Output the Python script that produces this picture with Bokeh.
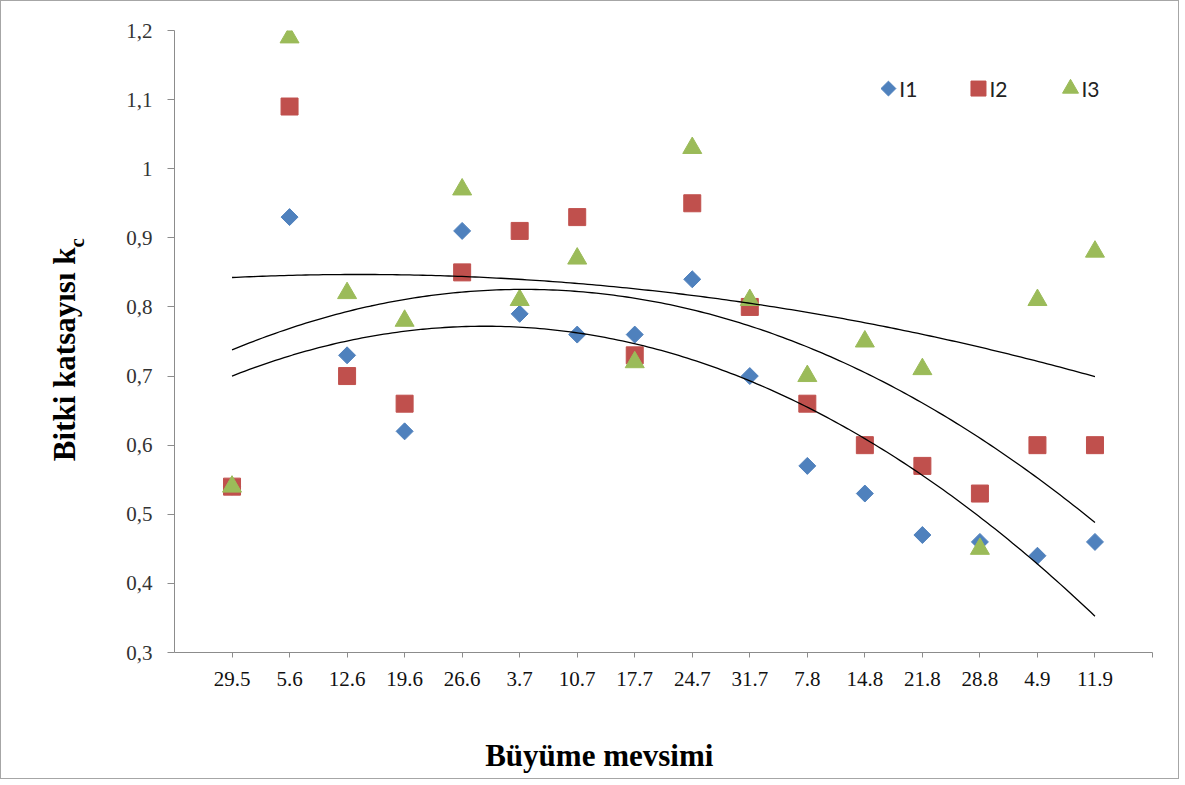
import numpy as np
from bokeh.plotting import figure
from bokeh.models import FixedTicker, Label, Range1d
from bokeh.core.properties import value
from bokeh.embed import file_html
from bokeh.resources import INLINE

# ---- data ----
dates = ["29.5", "5.6", "12.6", "19.6", "26.6", "3.7", "10.7", "17.7",
         "24.7", "31.7", "7.8", "14.8", "21.8", "28.8", "4.9", "11.9"]
i1 = [0.54, 0.93, 0.73, 0.62, 0.91, 0.79, 0.76, 0.76, 0.84, 0.70, 0.57, 0.53, 0.47, 0.46, 0.44, 0.46]
i2 = [0.54, 1.09, 0.70, 0.66, 0.85, 0.91, 0.93, 0.73, 0.95, 0.80, 0.66, 0.60, 0.57, 0.53, 0.60, 0.60]
i3 = [0.54, 1.19, 0.82, 0.78, 0.97, 0.81, 0.87, 0.72, 1.03, 0.81, 0.70, 0.75, 0.71, 0.45, 0.81, 0.88]
series_names = ["I1", "I2", "I3"]
ytick_values = [0.3, 0.4, 0.5, 0.6, 0.7, 0.8, 0.9, 1.0, 1.1, 1.2]
ytick_labels = ["0,3", "0,4", "0,5", "0,6", "0,7", "0,8", "0,9", "1", "1,1", "1,2"]
x_title = "Büyüme mevsimi"
y_title = "Bitki katsayısı k"
y_title_sub = "c"

n = len(dates)
xs = list(range(1, n + 1))

p = figure(width=1179, height=779, output_backend="svg", toolbar_location=None,
           x_range=Range1d(0, n + 1), y_range=Range1d(0.3, 1.2),
           min_border_left=173, min_border_right=28, min_border_top=29, min_border_bottom=128)
p.styles = {"border": "1px solid #a6a6a6"}
p.outline_line_color = None
p.grid.visible = False
p.background_fill_color = "white"
p.border_fill_color = "white"

# x axis
xa = p.xaxis[0]
xa.ticker = FixedTicker(ticks=list(range(1, n + 2)))
ov = {i + 1: d for i, d in enumerate(dates)}
ov[n + 1] = ""
xa.major_label_overrides = ov
xa.axis_line_color = "#8c8c8c"
xa.major_tick_line_color = "#8c8c8c"
xa.major_tick_in = 0
xa.major_tick_out = 5
xa.minor_tick_line_color = None
xa.major_label_text_font = "Liberation Serif"
xa.major_label_text_font_size = "21px"
xa.major_label_text_color = "#111111"
xa.major_label_standoff = 14

# y axis
ya = p.yaxis[0]
ya.ticker = FixedTicker(ticks=ytick_values)
ya.major_label_overrides = {v: l for v, l in zip(ytick_values, ytick_labels)}
ya.axis_line_color = "#8c8c8c"
ya.major_tick_line_color = "#8c8c8c"
ya.major_tick_in = 0
ya.major_tick_out = 7
ya.minor_tick_line_color = None
ya.major_label_text_font = "Liberation Serif"
ya.major_label_text_font_size = "21px"
ya.major_label_text_color = "#333333"
ya.major_label_standoff = 15

colors = ["#4F81BD", "#C0504D", "#9BBB59"]

# points
p.scatter(xs, i1, marker="square", angle=np.pi / 4, size=12, color=colors[0])
p.scatter(xs, i2, marker="square", size=17, color=colors[1])
p.scatter(xs, i3, marker="triangle", size=19, color=colors[2])

# polynomial (2nd order) trend lines
xx = np.linspace(1, n, 200)
for ys in (i1, i2, i3):
    coef = np.polyfit(xs, ys, 2)
    p.line(xx, np.polyval(coef, xx), color="black", line_width=1.3)

# legend (drawn inside the plot area, top right)
leg_x = [12.41, 13.975, 15.575]   # layout positions of legend keys (data units)
leg_y = 1.116
leg_gap = 0.19
p.scatter([leg_x[0]], [leg_y], marker="square", angle=np.pi / 4, size=10.5, color=colors[0])
p.scatter([leg_x[1]], [leg_y], marker="square", size=15, color=colors[1])
p.scatter([leg_x[2]], [leg_y], marker="triangle", size=16, color=colors[2])
p.text([lx + leg_gap for lx in leg_x], [leg_y] * 3, text=series_names,
       text_font=value("Lato"), text_font_size="21px", text_color="#222222",
       text_baseline="middle", text_align="left")

# axis titles (placed in the side panels so that they are not clipped)
p.add_layout(Label(x=5.40, y=0.151, text=x_title, text_align="left", text_baseline="middle",
                   text_font="Liberation Serif", text_font_style="bold",
                   text_font_size="31px", text_color="black"), "below")
p.add_layout(Label(x=-1.91, y=0.886, text=y_title, angle=np.pi / 2, text_align="right",
                   text_baseline="middle", text_font="Liberation Serif", text_font_style="bold",
                   text_font_size="31px", text_color="black"), "left")
p.add_layout(Label(x=-1.69, y=0.886, text=y_title_sub, angle=np.pi / 2, text_align="left",
                   text_baseline="middle", text_font="Liberation Serif", text_font_style="bold",
                   text_font_size="21px", text_color="black"), "left")

open("out.html", "w").write(file_html(p, INLINE))
